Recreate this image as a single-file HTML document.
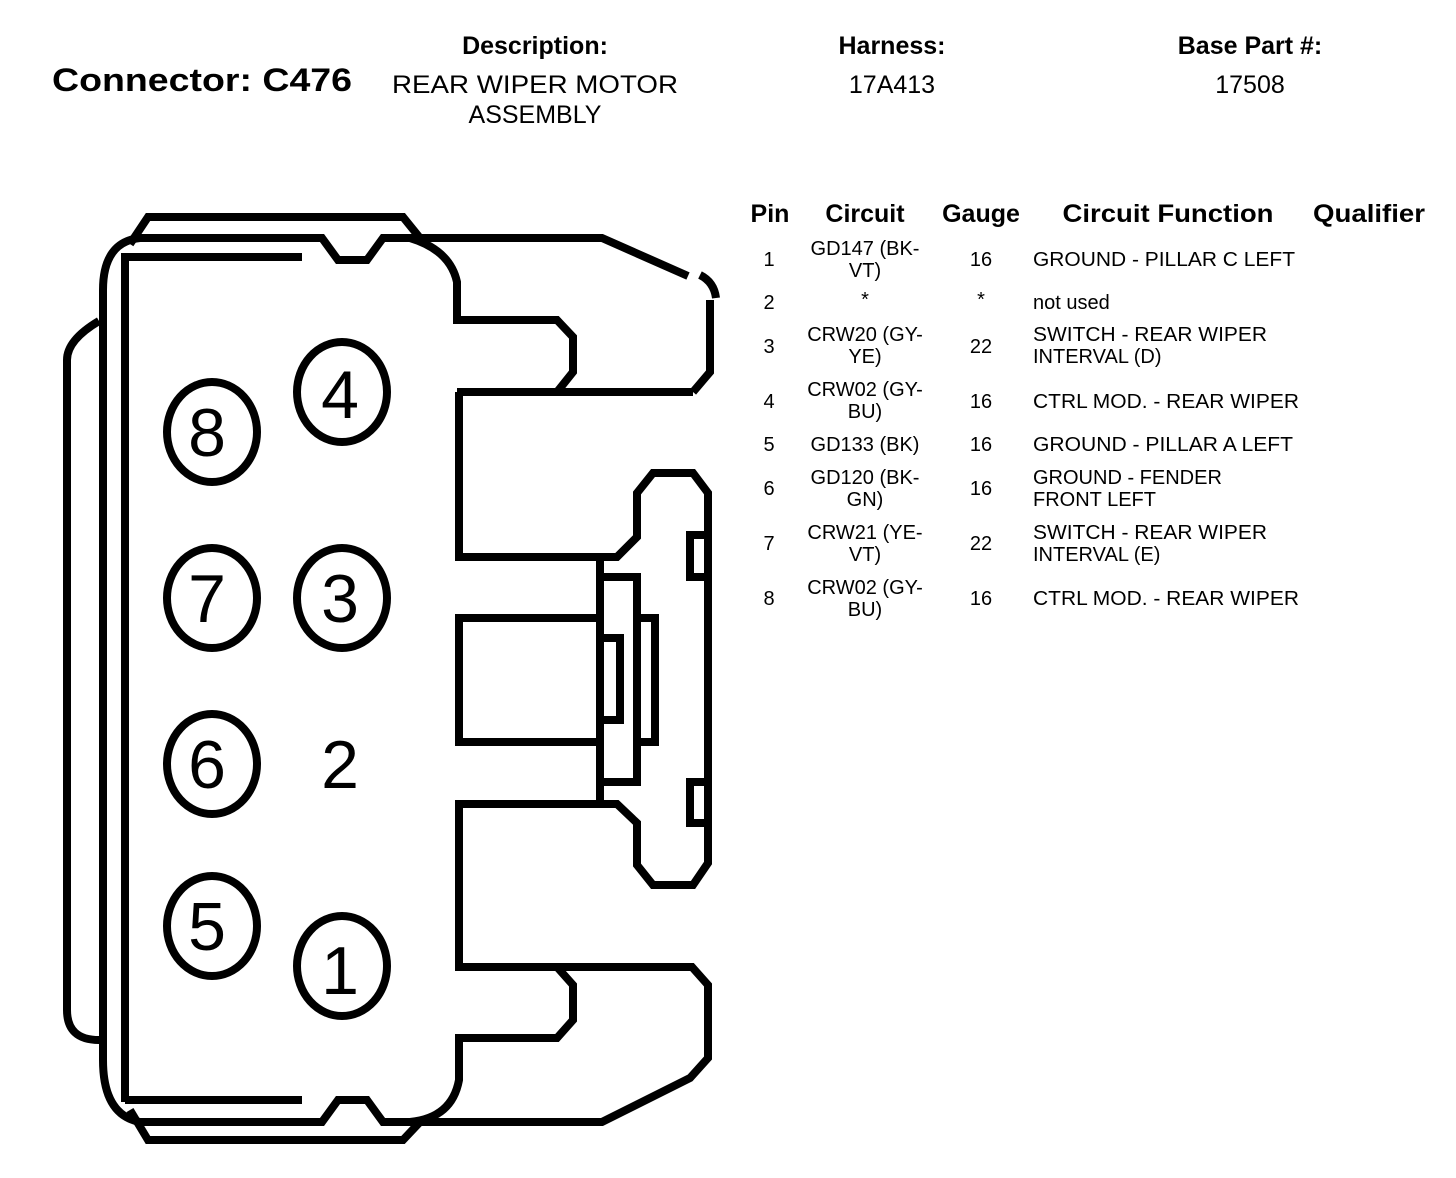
<!DOCTYPE html>
<html><head><meta charset="utf-8"><style>
html,body{margin:0;padding:0;background:#fff;}
svg{display:block;}
text{font-family:"Liberation Sans",Arial,sans-serif;fill:#000;}
</style></head><body>
<svg width="1456" height="1178" viewBox="0 0 1456 1178" xmlns="http://www.w3.org/2000/svg">
<!-- Header -->
<text x="52" y="91" font-size="32" font-weight="bold" textLength="300" lengthAdjust="spacingAndGlyphs">Connector: C476</text>
<text x="535" y="54" font-size="25" font-weight="bold" text-anchor="middle">Description:</text>
<text x="535" y="93" font-size="25" text-anchor="middle" textLength="286" lengthAdjust="spacingAndGlyphs">REAR WIPER MOTOR</text>
<text x="535" y="123" font-size="25" text-anchor="middle">ASSEMBLY</text>
<text x="892" y="54" font-size="25" font-weight="bold" text-anchor="middle">Harness:</text>
<text x="892" y="93" font-size="25" text-anchor="middle">17A413</text>
<text x="1250" y="54" font-size="25" font-weight="bold" text-anchor="middle">Base Part #:</text>
<text x="1250" y="93" font-size="25" text-anchor="middle">17508</text>

<!-- Table header -->
<g font-size="25" font-weight="bold" text-anchor="middle">
<text x="770" y="222">Pin</text>
<text x="865" y="222">Circuit</text>
<text x="981" y="222">Gauge</text>
<text x="1168" y="222" textLength="211" lengthAdjust="spacingAndGlyphs">Circuit Function</text>
<text x="1369" y="222" textLength="112" lengthAdjust="spacingAndGlyphs">Qualifier</text>
</g>
<g font-size="20">
<g text-anchor="middle">
<text x="769" y="266">1</text><text x="769" y="309">2</text><text x="769" y="353">3</text><text x="769" y="408">4</text>
<text x="769" y="451">5</text><text x="769" y="495">6</text><text x="769" y="550">7</text><text x="769" y="605">8</text>
<text x="865" y="255">GD147 (BK-</text><text x="865" y="277">VT)</text>
<text x="865" y="306">*</text>
<text x="865" y="341">CRW20 (GY-</text><text x="865" y="363">YE)</text>
<text x="865" y="396">CRW02 (GY-</text><text x="865" y="418">BU)</text>
<text x="865" y="451">GD133 (BK)</text>
<text x="865" y="484">GD120 (BK-</text><text x="865" y="506">GN)</text>
<text x="865" y="539">CRW21 (YE-</text><text x="865" y="561">VT)</text>
<text x="865" y="594">CRW02 (GY-</text><text x="865" y="616">BU)</text>
<text x="981" y="266">16</text><text x="981" y="306">*</text><text x="981" y="353">22</text><text x="981" y="408">16</text>
<text x="981" y="451">16</text><text x="981" y="495">16</text><text x="981" y="550">22</text><text x="981" y="605">16</text>
</g>
<text x="1033" y="266" textLength="262" lengthAdjust="spacingAndGlyphs">GROUND - PILLAR C LEFT</text>
<text x="1033" y="309">not used</text>
<text x="1033" y="341" textLength="234" lengthAdjust="spacingAndGlyphs">SWITCH - REAR WIPER</text>
<text x="1033" y="363">INTERVAL (D)</text>
<text x="1033" y="408" textLength="266" lengthAdjust="spacingAndGlyphs">CTRL MOD. - REAR WIPER</text>
<text x="1033" y="451" textLength="260" lengthAdjust="spacingAndGlyphs">GROUND - PILLAR A LEFT</text>
<text x="1033" y="484">GROUND - FENDER</text>
<text x="1033" y="506">FRONT LEFT</text>
<text x="1033" y="539" textLength="234" lengthAdjust="spacingAndGlyphs">SWITCH - REAR WIPER</text>
<text x="1033" y="561">INTERVAL (E)</text>
<text x="1033" y="605" textLength="266" lengthAdjust="spacingAndGlyphs">CTRL MOD. - REAR WIPER</text>
</g>

<!-- Connector drawing -->
<g fill="none" stroke="#000" stroke-width="8">
<!-- outer left band -->
<path d="M99,321 Q67,340 67,360 L67,1010 Q67,1040 99,1040"/>
<!-- top cap -->
<path d="M130,244 L148,217 L403,217 L420,238"/>
<!-- bottom cap -->
<path d="M130,1110 L148,1140 L403,1140 L420,1122"/>
<!-- main outer top -->
<path d="M103,1060 L103,290 Q103,242 140,238 L322,238 L338,260 L367,260 L383,238 L602,238 L688,276"/>
<path d="M700,275 Q714,282 716,298"/>
<path d="M710,300 L710,372 L693,392"/>
<path d="M383,238 L410,238 Q450,250 457,282 L457,320 L557,320 L573,337 L573,372 L557,392"/>
<path d="M457,392 L693,392"/>
<path d="M459,392 L459,557 L617,557 L637,537 L637,493 L653,473 L693,473 L708,493 L708,863 L693,885 L653,885 L637,865 L637,823 L617,804 L459,804 L459,967 L692,967 L708,985 L708,1058 L690,1078 L602,1122 L383,1122 L367,1100 L338,1100 L322,1122 L140,1122 Q103,1115 103,1060"/>
<path d="M557,967 L573,985 L573,1020 L557,1038 L459,1038 L459,1080 Q452,1118 410,1122"/>
<!-- inner line -->
<path d="M125,1102 L125,257 L302,257"/>
<path d="M125,1100 L302,1100"/>
<!-- middle rect and latch -->
<path d="M600,618 L459,618 L459,742 L600,742"/>
<path d="M600,557 L600,804"/>
<path d="M600,577 L637,577 L637,782 L600,782"/>
<path d="M600,638 L620,638 L620,720 L600,720"/>
<path d="M637,618 L655,618 L655,742 L637,742"/>
<path d="M708,535 L690,535 L690,577 L708,577"/>
<path d="M708,782 L690,782 L690,823 L708,823"/>
<!-- pin circles -->
<ellipse cx="212" cy="432" rx="45" ry="50"/>
<ellipse cx="342" cy="392" rx="45" ry="50"/>
<ellipse cx="212" cy="598" rx="45" ry="50"/>
<ellipse cx="342" cy="598" rx="45" ry="50"/>
<ellipse cx="212" cy="764" rx="45" ry="50"/>
<ellipse cx="212" cy="926" rx="45" ry="50"/>
<ellipse cx="342" cy="966" rx="45" ry="50"/>
</g>
<g font-size="68" text-anchor="middle">
<text x="207" y="456">8</text>
<text x="340" y="418">4</text>
<text x="207" y="622">7</text>
<text x="340" y="622">3</text>
<text x="207" y="788">6</text>
<text x="340" y="788">2</text>
<text x="207" y="950">5</text>
<text x="340" y="994">1</text>
</g>
</svg>
</body></html>
